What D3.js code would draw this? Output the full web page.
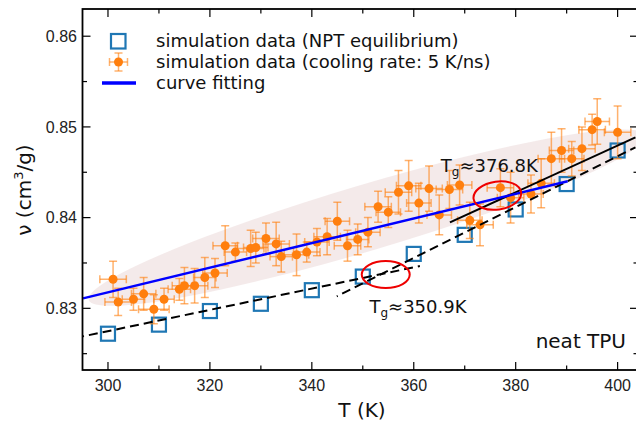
<!DOCTYPE html>
<html><head><meta charset="utf-8">
<script src="https://cdn.jsdelivr.net/npm/d3@7/dist/d3.min.js"></script>
<style>
html,body{margin:0;padding:0;background:#fff;}
svg{display:block;}
</style></head>
<body>
<svg id="chart" width="636" height="426"></svg>
<script>
// ---- data ----
const xTicks = [300, 320, 340, 360, 380, 400];
const yTicks = [0.83, 0.84, 0.85, 0.86];

// NPT equilibrium (blue squares)
const nptT = [300, 310, 320, 330, 340, 350, 360, 370, 380, 390, 400];
const nptV = [0.8272, 0.8282, 0.8297, 0.8305, 0.8320, 0.8335, 0.8360, 0.8381, 0.8409, 0.8437, 0.8474];

// cooling rate 5 K/ns (orange, with error bars)
const coolT = [301, 302, 305, 307, 309, 311, 314, 315, 317, 319, 321, 323, 325, 328, 329, 331, 333, 334, 337, 339,
               341, 343, 345, 347, 349, 351, 353, 355, 357, 359, 361, 363, 365, 367, 369, 371, 373, 377, 379, 383,
               385, 387, 389, 391, 393, 395, 396, 400];
const coolV = [0.8332, 0.8307, 0.8310, 0.8316, 0.8299, 0.8310, 0.8321, 0.8325, 0.8325, 0.8334, 0.8339, 0.8369, 0.8362, 0.8366, 0.8367, 0.8377, 0.8371, 0.8357, 0.8359, 0.8362,
               0.8373, 0.8379, 0.8396, 0.8369, 0.8376, 0.8384, 0.8412, 0.8406, 0.8428, 0.8435, 0.8416, 0.8432, 0.8403, 0.8431, 0.8436, 0.8397, 0.8392, 0.8433, 0.8422, 0.8426,
               0.8438, 0.8465, 0.8474, 0.8465, 0.8476, 0.8497, 0.8506, 0.8494];
const coolTerr = [2.6, 2.6, 2.2, 2.4, 3.0, 2.0, 2.2, 2.4, 2.6, 2.2, 2.4, 2.4, 2.2, 2.6, 2.4, 2.6, 2.6, 2.2, 2.4, 2.6,
                  2.4, 2.6, 2.4, 2.6, 2.2, 2.4, 2.6, 2.4, 2.6, 2.4, 2.4, 2.6, 2.4, 2.6, 2.4, 2.4, 2.6, 2.6, 2.6, 2.4,
                  2.6, 2.6, 2.4, 2.4, 2.6, 2.6, 2.4, 2.6];
const coolVerr = [0.0020, 0.0015, 0.0012, 0.0018, 0.0016, 0.0012, 0.0012, 0.0020, 0.0019, 0.0022, 0.0016, 0.0022, 0.0010, 0.0020, 0.0017, 0.0017, 0.0024, 0.0017, 0.0023, 0.0011,
                  0.0015, 0.0020, 0.0021, 0.0017, 0.0017, 0.0016, 0.0017, 0.0017, 0.0024, 0.0028, 0.0022, 0.0025, 0.0022, 0.0021, 0.0022, 0.0020, 0.0023, 0.0021, 0.0028, 0.0021,
                  0.0027, 0.0029, 0.0024, 0.0019, 0.0024, 0.0017, 0.0025, 0.0029];

// fitted lines (endpoints)
const fitT = [295.1, 390.2];      const fitV = [0.8311, 0.8440];     // blue curve fitting
const glassT = [295.1, 361.2];    const glassV = [0.82691, 0.83466]; // dashed, glassy
const rubberT = [344.9, 403.5];   const rubberV = [0.83132, 0.84775]; // dashed, rubbery
const solidT = [367.1, 403.5];    const solidV = [0.83948, 0.84885]; // black solid

// annotations
const tgLabels = [
  {tg: "376.8", T: 365.3, V: 0.8450},
  {tg: "350.9", T: 351.3, V: 0.82948}
];
const circles = [
  {T: 354.5, V: 0.83372, rx: 24, ry: 13.5, rot: 0},
  {T: 376.4, V: 0.84243, rx: 24, ry: 14, rot: -8}
];
const band = {T: 350.8, V: 0.84, rx: 290, ry: 33, rot: -16.5};

// ---- chart ----
const svg = d3.select("#chart");
const L = 82.5, R = 638, T0 = 9, B = 370;
const x = d3.scaleLinear().domain([295, 404]).range([L, R]);
const y = d3.scaleLinear().domain([0.8232, 0.8630]).range([B, T0]);

svg.append("defs").append("clipPath").attr("id", "clip")
  .append("rect").attr("x", L).attr("y", T0).attr("width", R - L).attr("height", B - T0);

const plot = svg.append("g").attr("clip-path", "url(#clip)");

// shaded band
plot.append("ellipse")
  .attr("cx", 0).attr("cy", 0).attr("rx", band.rx).attr("ry", band.ry)
  .attr("transform", `translate(${x(band.T)},${y(band.V)}) rotate(${band.rot})`)
  .attr("fill", "#c08080").attr("fill-opacity", 0.17);

// NPT squares
plot.selectAll("rect.sq").data(nptT).join("rect").attr("class", "sq")
  .attr("x", (d, i) => x(d) - 7).attr("y", (d, i) => y(nptV[i]) - 7)
  .attr("width", 14).attr("height", 14)
  .attr("fill", "none").attr("stroke", "#1f77b4").attr("stroke-width", 2.2);

// error bars
const eb = plot.append("g").attr("stroke", "#ff7f0e").attr("stroke-opacity", 0.6).attr("stroke-width", 1.5);
coolT.forEach((t, i) => {
  const cx = x(t), cy = y(coolV[i]);
  const x0 = x(t - coolTerr[i]), x1 = x(t + coolTerr[i]);
  const y0 = y(coolV[i] - coolVerr[i]), y1 = y(coolV[i] + coolVerr[i]);
  eb.append("line").attr("x1", x0).attr("x2", x1).attr("y1", cy).attr("y2", cy);
  eb.append("line").attr("x1", cx).attr("x2", cx).attr("y1", y0).attr("y2", y1);
  eb.append("line").attr("x1", x0).attr("x2", x0).attr("y1", cy - 4).attr("y2", cy + 4);
  eb.append("line").attr("x1", x1).attr("x2", x1).attr("y1", cy - 4).attr("y2", cy + 4);
  eb.append("line").attr("x1", cx - 4).attr("x2", cx + 4).attr("y1", y0).attr("y2", y0);
  eb.append("line").attr("x1", cx - 4).attr("x2", cx + 4).attr("y1", y1).attr("y2", y1);
});
plot.selectAll("circle.pt").data(coolT).join("circle").attr("class", "pt")
  .attr("cx", d => x(d)).attr("cy", (d, i) => y(coolV[i])).attr("r", 4.5)
  .attr("fill", "#ff7f0e");

// lines
const line = d3.line().x(d => x(d[0])).y(d => y(d[1]));
const mk = (ts, vs) => ts.map((t, i) => [t, vs[i]]);
plot.append("path").attr("d", line(mk(glassT, glassV))).attr("fill", "none")
  .attr("stroke", "#000").attr("stroke-width", 2).attr("stroke-dasharray", "9,5").attr("stroke-dashoffset", 8);
plot.append("path").attr("d", line(mk(rubberT, rubberV))).attr("fill", "none")
  .attr("stroke", "#000").attr("stroke-width", 2).attr("stroke-dasharray", "9,5").attr("stroke-dashoffset", 8);
plot.append("path").attr("d", line(mk(solidT, solidV))).attr("fill", "none")
  .attr("stroke", "#000").attr("stroke-width", 2);
plot.append("path").attr("d", line(mk(fitT, fitV))).attr("fill", "none")
  .attr("stroke", "#0000ff").attr("stroke-width", 2.5);

// red circles
circles.forEach(c => {
  plot.append("ellipse").attr("cx", 0).attr("cy", 0).attr("rx", c.rx).attr("ry", c.ry)
    .attr("transform", `translate(${x(c.T)},${y(c.V)}) rotate(${c.rot})`)
    .attr("fill", "none").attr("stroke", "#ee0000").attr("stroke-width", 2);
});

// Tg labels
tgLabels.forEach(l => {
  const t = svg.append("text").attr("x", x(l.T)).attr("y", y(l.V))
    .attr("font-family", "DejaVu Sans").attr("font-size", 18).attr("fill", "#111");
  t.append("tspan").text("T");
  t.append("tspan").attr("font-size", 12).attr("dy", 4).text("g");
  t.append("tspan").attr("dy", -4).text("≈" + l.tg + "K");
});

svg.append("text").attr("x", 626).attr("y", 348).attr("text-anchor", "end")
  .attr("font-family", "DejaVu Sans").attr("font-size", 20).attr("fill", "#111").text("neat TPU");

// axes
const ax = svg.append("g");
const minorX = d3.range(300, 404, 10);
const minorY = [0.825, 0.835, 0.845, 0.855];
// ticks (inward) on all four sides
minorX.forEach(t => {
  const major = xTicks.includes(t);
  const len = major ? 8 : 4.5;
  ax.append("line").attr("x1", x(t)).attr("x2", x(t)).attr("y1", B).attr("y2", B - len).attr("stroke", "#000").attr("stroke-width", 1.2);
  ax.append("line").attr("x1", x(t)).attr("x2", x(t)).attr("y1", T0).attr("y2", T0 + len).attr("stroke", "#000").attr("stroke-width", 1.2);
});
yTicks.concat(minorY).forEach(v => {
  const major = yTicks.includes(v);
  const len = major ? 8 : 4.5;
  ax.append("line").attr("x1", L).attr("x2", L + len).attr("y1", y(v)).attr("y2", y(v)).attr("stroke", "#000").attr("stroke-width", 1.2);
  ax.append("line").attr("x1", R).attr("x2", R - len).attr("y1", y(v)).attr("y2", y(v)).attr("stroke", "#000").attr("stroke-width", 1.2);
});
ax.append("rect").attr("x", L).attr("y", T0).attr("width", R - L).attr("height", B - T0)
  .attr("fill", "none").attr("stroke", "#000").attr("stroke-width", 1.8);

// tick labels
ax.selectAll("text.xt").data(xTicks).join("text").attr("class", "xt")
  .attr("x", d => x(d)).attr("y", 391).attr("text-anchor", "middle")
  .attr("font-family", "Liberation Sans, Arial, sans-serif").attr("font-size", 16).attr("fill", "#222")
  .text(d => d);
ax.selectAll("text.yt").data(yTicks).join("text").attr("class", "yt")
  .attr("x", 77).attr("y", d => y(d)).attr("dy", "0.36em").attr("text-anchor", "end")
  .attr("font-family", "Liberation Sans, Arial, sans-serif").attr("font-size", 16).attr("fill", "#222")
  .text(d3.format(".2f"));

// axis labels
svg.append("text").attr("x", 362).attr("y", 417).attr("text-anchor", "middle")
  .attr("font-family", "DejaVu Sans").attr("font-size", 20).attr("fill", "#111").text("T (K)");
const yl = svg.append("text").attr("transform", "translate(31,190) rotate(-90)").attr("text-anchor", "middle")
  .attr("font-family", "DejaVu Sans").attr("font-size", 20).attr("fill", "#111");
yl.append("tspan").text("ν (cm");
yl.append("tspan").attr("font-size", 13).attr("dy", -8).text("3");
yl.append("tspan").attr("dy", 8).text("/g)");

// legend
const lg = svg.append("g").attr("font-family", "DejaVu Sans").attr("font-size", 18).attr("fill", "#111");
lg.append("rect").attr("x", 111).attr("y", 34).attr("width", 14.5).attr("height", 14.5)
  .attr("fill", "none").attr("stroke", "#1f77b4").attr("stroke-width", 2.2);
const le = lg.append("g").attr("stroke", "#ff7f0e").attr("stroke-opacity", 0.6).attr("stroke-width", 1.5);
le.append("line").attr("x1", 109.5).attr("x2", 127.5).attr("y1", 62).attr("y2", 62);
le.append("line").attr("x1", 118.5).attr("x2", 118.5).attr("y1", 53).attr("y2", 71);
le.append("line").attr("x1", 109.5).attr("x2", 109.5).attr("y1", 58).attr("y2", 66);
le.append("line").attr("x1", 127.5).attr("x2", 127.5).attr("y1", 58).attr("y2", 66);
le.append("line").attr("x1", 114.5).attr("x2", 122.5).attr("y1", 53).attr("y2", 53);
le.append("line").attr("x1", 114.5).attr("x2", 122.5).attr("y1", 71).attr("y2", 71);
lg.append("circle").attr("cx", 118.5).attr("cy", 62).attr("r", 4.5).attr("fill", "#ff7f0e");
lg.append("line").attr("x1", 102).attr("x2", 136).attr("y1", 83).attr("y2", 83).attr("stroke", "#0000ff").attr("stroke-width", 3.5);
const legText = ["simulation data (NPT equilibrium)", "simulation data (cooling rate: 5 K/ns)", "curve fitting"];
[41, 62, 83].forEach((yy, i) => {
  lg.append("text").attr("x", 156).attr("y", yy).attr("dy", "0.36em").text(legText[i]);
});
</script>
</body></html>
